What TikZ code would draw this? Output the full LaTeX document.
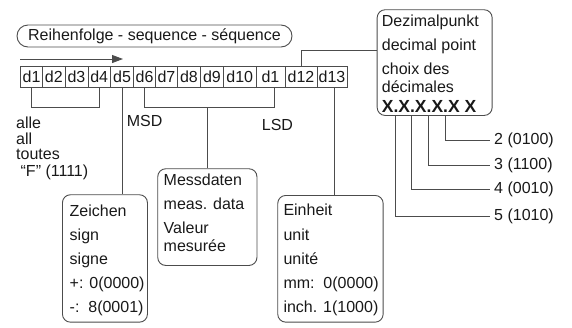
\documentclass[tikz,border=0pt]{standalone}
\usepackage{fontspec}
\setmainfont{Liberation Sans}
\usetikzlibrary{arrows.meta}
\begin{document}
\begin{tikzpicture}[x=1pt,y=-1pt,
  every node/.style={font=\fontsize{16}{19}\selectfont, inner sep=0pt, text=black!90},
  ln/.style={draw=black!70, line width=0.9pt},
  cell/.style={ln, minimum height=21pt, anchor=west},
  rbox/.style={ln, rounded corners=8pt, anchor=north west},
  txt/.style={anchor=base west},
  code/.style={anchor=west, inner xsep=4pt}
]
\useasboundingbox (0,0) rectangle (572,327);

% title
\node[ln, rounded corners=11pt, minimum width=275pt, minimum height=22pt] (title) at (154.5,36) {Reihenfolge - sequence - séquence};
\coordinate (arrS) at (20,59);
\coordinate (arrE) at (123,59);
\draw[ln, -{Triangle[length=11pt,width=8pt]}] (arrS) -- (arrE);

% cells
\node[cell, minimum width=22.3pt] (c1) at (20,76.5) {d1};
\node[cell, minimum width=22.2pt] (c2) at (42.3,76.5) {d2};
\node[cell, minimum width=23pt] (c3) at (64.5,76.5) {d3};
\node[cell, minimum width=22.5pt] (c4) at (87.5,76.5) {d4};
\node[cell, minimum width=23.3pt] (c5) at (110,76.5) {d5};
\node[cell, minimum width=21.7pt] (c6) at (133.3,76.5) {d6};
\node[cell, minimum width=22pt] (c7) at (155,76.5) {d7};
\node[cell, minimum width=23pt] (c8) at (177,76.5) {d8};
\node[cell, minimum width=23pt] (c9) at (200,76.5) {d9};
\node[cell, minimum width=32.5pt] (c10) at (223,76.5) {d10};
\node[cell, minimum width=29pt] (c11) at (255.5,76.5) {d1\hspace{9pt}};
\node[cell, minimum width=32pt] (c12) at (284.5,76.5) {d12};
\node[cell, minimum width=30pt] (c13) at (316.5,76.5) {d13};

% boxes
\node[rbox, minimum width=85pt, minimum height=127.4pt] (zei) at (62,194.3) {};
\node[rbox, minimum width=99.2pt, minimum height=96.7pt] (mess) at (157.3,168.3) {};
\node[rbox, minimum width=105.4pt, minimum height=126.7pt] (ein) at (277.3,195) {};
\node[rbox, minimum width=115pt, minimum height=105.7pt] (dez) at (376.7,9.3) {};

% box texts
\node[txt] (z1) at (69.5,216.7) {Zeichen};
\node[txt] (z2) at (69.5,240.5) {sign};
\node[txt] (z3) at (69.5,264.5) {signe};
\node[txt] (z4) at (69.5,288.5) {+: 0(0000)};
\node[txt] (z5) at (69.5,312.5) {-:\ \ 8(0001)};

\node[txt] (m1) at (163.5,185) {Messdaten};
\node[txt] (m2) at (163.5,209.3) {meas. data};
\node[txt] (m3) at (163.5,233.3) {Valeur};
\node[txt] (m4) at (163.5,251.7) {mesurée};

\node[txt] (e1) at (283.3,215.7) {Einheit};
\node[txt] (e2) at (283.3,240) {unit};
\node[txt] (e3) at (283.3,264.3) {unité};
\node[txt] (e4) at (283.3,288.3) {mm:\ \ 0(0000)};
\node[txt] (e5) at (283.3,312.7) {inch. 1(1000)};

\node[txt] (d1t) at (381.7,26.7) {Dezimalpunkt};
\node[txt] (d2t) at (381.7,50.5) {decimal point};
\node[txt] (d3t) at (381.7,74.5) {choix des};
\node[txt] (d4t) at (381.7,92.7) {décimales};
\node[txt, font=\fontsize{17.5}{20}\selectfont\bfseries] (d5t) at (381.7,112.5) {X.X.X.X.X X};

% left texts
\node[txt] (a1) at (16,128.5) {alle};
\node[txt] (a2) at (16,144) {all};
\node[txt] (a3) at (16,159.5) {toutes};
\node[txt] (a4) at (16,176) {\ “F” (1111)};
\node[txt] (msd) at (126.7,126.7) {MSD};
\node[txt] (lsd) at (261.7,130.7) {LSD};

% decimal codes
\node[code] (k2) at (490,140.7) {2 (0100)};
\node[code] (k3) at (490,165) {3 (1100)};
\node[code] (k4) at (490,189.3) {4 (0010)};
\node[code] (k5) at (490,216.7) {5 (1010)};

% connectors
\draw[ln] (c1.south) -- ++(0,20) -| (c4.south);
\draw[ln] (c5.south) -- (c5.south |- zei.north);
\draw[ln] (c6.south) -- ++(0,20) coordinate (b2) -| ([xshift=4pt]c11.south);
\draw[ln] (mess.north) -- (mess.north |- b2);
\draw[ln] (c12.north) |- ([yshift=12pt]dez.west);
\draw[ln] ([xshift=2.5pt]c13.south) -- ([xshift=2.5pt]c13.south |- ein.north);
\draw[ln] (dez.south -| 445,0) |- (k2.west);
\draw[ln] (dez.south -| 428,0) |- (k3.west);
\draw[ln] (dez.south -| 411.5,0) |- (k4.west);
\draw[ln] (dez.south -| 395,0) |- (k5.west);
\end{tikzpicture}
\end{document}
